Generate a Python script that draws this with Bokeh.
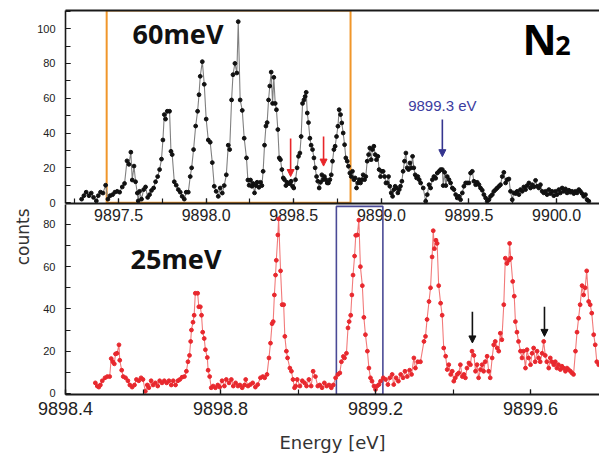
from bokeh.plotting import figure
from bokeh.layouts import column
from bokeh.models import (Range1d, LinearAxis, SingleIntervalTicker, FixedTicker,
                          NumeralTickFormatter, Arrow, NormalHead, Title)
from bokeh.embed import file_html
from bokeh.resources import INLINE
from bokeh.core.properties import value

# ---------------- data: upper spectrum (60 meV resolution) ----------------
TOP_E = [
    9897.289, 9897.302, 9897.315, 9897.331, 9897.344, 9897.357, 9897.373, 9897.384, 9897.397, 9897.411,
    9897.426, 9897.439, 9897.452, 9897.466, 9897.479, 9897.492, 9897.506, 9897.521, 9897.534, 9897.548,
    9897.559, 9897.570, 9897.578, 9897.588, 9897.597, 9897.607, 9897.612, 9897.620, 9897.631, 9897.643,
    9897.654, 9897.666, 9897.677, 9897.688, 9897.700, 9897.711, 9897.723, 9897.734, 9897.745, 9897.753,
    9897.761, 9897.768, 9897.778, 9897.791, 9897.799, 9897.806, 9897.818, 9897.829, 9897.841, 9897.852,
    9897.863, 9897.875, 9897.886, 9897.898, 9897.909, 9897.917, 9897.928, 9897.940, 9897.951, 9897.959,
    9897.966, 9897.978, 9897.989, 9898.000, 9898.012, 9898.023, 9898.035, 9898.046, 9898.057, 9898.069,
    9898.080, 9898.092, 9898.103, 9898.115, 9898.126, 9898.134, 9898.145, 9898.153, 9898.164, 9898.175,
    9898.183, 9898.194, 9898.206, 9898.217, 9898.230, 9898.238, 9898.245, 9898.253, 9898.261, 9898.268,
    9898.276, 9898.284, 9898.291, 9898.301, 9898.310, 9898.318, 9898.325, 9898.333, 9898.341, 9898.348,
    9898.356, 9898.363, 9898.371, 9898.379, 9898.386, 9898.394, 9898.401, 9898.409, 9898.417, 9898.424,
    9898.432, 9898.440, 9898.447, 9898.455, 9898.462, 9898.470, 9898.478, 9898.485, 9898.493, 9898.500,
    9898.510, 9898.519, 9898.527, 9898.535, 9898.542, 9898.550, 9898.558, 9898.565, 9898.571, 9898.577,
    9898.584, 9898.592, 9898.599, 9898.607, 9898.615, 9898.622, 9898.630, 9898.637, 9898.645, 9898.653,
    9898.660, 9898.668, 9898.675, 9898.683, 9898.691, 9898.698, 9898.706, 9898.714, 9898.721, 9898.729,
    9898.736, 9898.744, 9898.752, 9898.759, 9898.767, 9898.774, 9898.782, 9898.790, 9898.797, 9898.805,
    9898.812, 9898.820, 9898.828, 9898.835, 9898.843, 9898.850, 9898.858, 9898.866, 9898.873, 9898.881,
    9898.889, 9898.896, 9898.904, 9898.911, 9898.919, 9898.927, 9898.934, 9898.942, 9898.949, 9898.957,
    9898.965, 9898.972, 9898.980, 9898.987, 9898.995, 9899.003, 9899.010, 9899.018, 9899.026, 9899.033,
    9899.041, 9899.048, 9899.056, 9899.064, 9899.071, 9899.079, 9899.086, 9899.094, 9899.102, 9899.109,
    9899.117, 9899.124, 9899.132, 9899.140, 9899.147, 9899.155, 9899.163, 9899.170, 9899.178, 9899.185,
    9899.193, 9899.201, 9899.208, 9899.216, 9899.224, 9899.239, 9899.253, 9899.262, 9899.272, 9899.281,
    9899.291, 9899.300, 9899.310, 9899.319, 9899.329, 9899.338, 9899.348, 9899.353, 9899.361, 9899.368,
    9899.376, 9899.386, 9899.395, 9899.405, 9899.414, 9899.424, 9899.433, 9899.443, 9899.452, 9899.462,
    9899.471, 9899.481, 9899.490, 9899.500, 9899.509, 9899.519, 9899.528, 9899.538, 9899.547, 9899.557,
    9899.566, 9899.576, 9899.585, 9899.595, 9899.604, 9899.614, 9899.623, 9899.633, 9899.642, 9899.652,
    9899.661, 9899.671, 9899.680, 9899.690, 9899.699, 9899.709, 9899.718, 9899.728, 9899.737, 9899.747,
    9899.756, 9899.766, 9899.775, 9899.785, 9899.794, 9899.804, 9899.813, 9899.823, 9899.832, 9899.842,
    9899.851, 9899.861, 9899.870, 9899.880, 9899.889, 9899.899, 9899.908, 9899.918, 9899.927, 9899.937,
    9899.946, 9899.956, 9899.965, 9899.975, 9899.984, 9899.994, 9900.003, 9900.013, 9900.022, 9900.032,
    9900.041, 9900.051, 9900.060, 9900.070, 9900.079, 9900.089, 9900.098, 9900.108, 9900.117, 9900.127,
    9900.136, 9900.146, 9900.155, 9900.165, 9900.174, 9900.184,
]
TOP_COUNTS = [
    2, 4, 6, 4, 5.5, 3, 1, 4, 6, 5.5,
    10, 2, 4, 4.6, 6, 6.5, 6, 9, 11, 24,
    22, 29, 13, 21, 12, 5.5, 1, 6.5, 2, 7.5,
    9, 3, 4.6, 7, 8.4, 12, 15, 19, 25, 36,
    50.6, 48, 52.5, 52.5, 29.5, 27.6, 12, 10, 7.5, 6,
    3.6, 2, 6, 6, 15, 20, 30.5, 44, 52.5, 62,
    72.6, 81, 68, 48, 36, 34.7, 23, 9.4, 6.5, 3.6,
    8.4, 5.5, 9.8, 16, 33, 30.5, 59, 73.5, 80, 74.5,
    104, 59, 53, 37, 25.7, 13, 10, 13, 9.4, 11,
    5.6, 9.8, 11.7, 8.8, 11.7, 9.8, 18, 33, 44, 46,
    59, 67, 75, 57, 72, 57, 53.4, 42, 25.7, 24.7,
    19, 14.2, 13.2, 9.8, 11.7, 11, 11, 12.3, 9.4, 8.4,
    13.2, 20, 26.6, 28.5, 38, 57, 59, 61, 63.4, 51.5,
    46, 37, 33, 30.5, 25.7, 20, 15, 12.3, 8.4, 11.7,
    16, 13.2, 15, 13.2, 11.3, 11.3, 13.2, 16, 23.8, 30.5,
    32.4, 38, 43.9, 53.4, 50.6, 45.8, 40, 33.3, 25.7, 23.8,
    20.9, 17, 15, 18, 13.2, 14.2, 8.4, 11.3, 13.2, 11.3,
    13.2, 16, 13.2, 15, 23.8, 27.6, 31.4, 24.7, 30.5, 32.4,
    27.6, 24.7, 26.6, 19, 15, 18, 18, 15, 11.3, 11.3,
    15, 9.4, 5.6, 3.6, 7.5, 9.4, 8.4, 5.6, 7.5, 9.4,
    12.3, 18, 23.8, 28.5, 20, 19, 22.8, 20, 26.6, 20,
    16, 14.2, 15, 13.2, 11.3, 8.4, 0.8, 4.6, 10.3, 8.4,
    13.2, 15, 14, 17, 18, 19, 19, 9.8, 17.4, 9.8,
    15, 13.2, 11.3, 8.4, 7.5, 4.6, 2.7, 3.6, 1.7, 5.6,
    9.4, 11.3, 11.3, 11.3, 17, 18, 12.3, 10.3, 11.7, 10.3,
    8.4, 7.1, 4.6, 2.7, 0.8, 1.7, 3.6, 4.6, 6.5, 7.5,
    8.4, 9.4, 10.3, 15, 17.4, 11.3, 13.2, 13.6, 6.5, 1.7,
    5.6, 5.2, 6.5, 4.6, 7.5, 6.5, 9, 7.5, 9.8, 11.3,
    8.4, 10.3, 9, 12.8, 9.4, 8.4, 10.3, 6.5, 5.6, 6.5,
    4.6, 7.5, 5.2, 6.5, 4, 6.5, 4.6, 7.5, 5.6, 8.4,
    6.5, 7.9, 5.6, 7.1, 6, 6.5, 5.2, 6.5, 5.6, 7.5,
    6.5, 5.2, 3.6, 4.6, 1.7, 0.8,
]

# ---------------- data: lower spectrum (25 meV resolution) ----------------
BOT_E = [
    9898.477, 9898.482, 9898.486, 9898.490, 9898.495, 9898.502, 9898.508, 9898.514, 9898.518, 9898.522,
    9898.526, 9898.529, 9898.533, 9898.538, 9898.540, 9898.545, 9898.549, 9898.555, 9898.561, 9898.566,
    9898.572, 9898.578, 9898.583, 9898.589, 9898.595, 9898.600, 9898.606, 9898.611, 9898.615, 9898.621,
    9898.626, 9898.632, 9898.638, 9898.643, 9898.649, 9898.655, 9898.661, 9898.667, 9898.673, 9898.678,
    9898.684, 9898.690, 9898.695, 9898.701, 9898.707, 9898.712, 9898.716, 9898.720, 9898.723, 9898.725,
    9898.729, 9898.732, 9898.735, 9898.741, 9898.744, 9898.748, 9898.751, 9898.754, 9898.758, 9898.761,
    9898.766, 9898.768, 9898.772, 9898.776, 9898.781, 9898.787, 9898.793, 9898.798, 9898.804, 9898.810,
    9898.815, 9898.822, 9898.828, 9898.833, 9898.839, 9898.845, 9898.850, 9898.856, 9898.862, 9898.865,
    9898.871, 9898.877, 9898.883, 9898.890, 9898.896, 9898.903, 9898.909, 9898.914, 9898.920, 9898.925,
    9898.929, 9898.933, 9898.936, 9898.939, 9898.942, 9898.944, 9898.948, 9898.950, 9898.955, 9898.959,
    9898.963, 9898.966, 9898.970, 9898.973, 9898.979, 9898.983, 9898.987, 9898.991, 9898.994, 9898.998,
    9899.005, 9899.011, 9899.017, 9899.022, 9899.028, 9899.034, 9899.039, 9899.045, 9899.051, 9899.056,
    9899.062, 9899.068, 9899.074, 9899.080, 9899.086, 9899.091, 9899.097, 9899.103, 9899.108, 9899.112,
    9899.117, 9899.120, 9899.125, 9899.129, 9899.132, 9899.136, 9899.139, 9899.142, 9899.146, 9899.149,
    9899.153, 9899.157, 9899.161, 9899.166, 9899.170, 9899.174, 9899.179, 9899.183, 9899.187, 9899.191,
    9899.196, 9899.200, 9899.204, 9899.209, 9899.213, 9899.220, 9899.226, 9899.232, 9899.237, 9899.243,
    9899.247, 9899.253, 9899.259, 9899.265, 9899.271, 9899.276, 9899.282, 9899.288, 9899.293, 9899.299,
    9899.303, 9899.309, 9899.316, 9899.325, 9899.329, 9899.333, 9899.338, 9899.342, 9899.346, 9899.349,
    9899.352, 9899.356, 9899.359, 9899.363, 9899.368, 9899.372, 9899.376, 9899.381, 9899.385, 9899.389,
    9899.394, 9899.398, 9899.402, 9899.406, 9899.411, 9899.415, 9899.419, 9899.424, 9899.428, 9899.432,
    9899.436, 9899.441, 9899.445, 9899.449, 9899.454, 9899.458, 9899.462, 9899.466, 9899.471, 9899.475,
    9899.479, 9899.483, 9899.488, 9899.492, 9899.496, 9899.501, 9899.505, 9899.509, 9899.514, 9899.518,
    9899.522, 9899.526, 9899.531, 9899.535, 9899.539, 9899.544, 9899.546, 9899.549, 9899.554, 9899.558,
    9899.561, 9899.565, 9899.569, 9899.574, 9899.578, 9899.582, 9899.587, 9899.591, 9899.595, 9899.600,
    9899.604, 9899.608, 9899.612, 9899.617, 9899.621, 9899.625, 9899.630, 9899.634, 9899.638, 9899.642,
    9899.647, 9899.651, 9899.655, 9899.660, 9899.664, 9899.668, 9899.672, 9899.677, 9899.681, 9899.685,
    9899.690, 9899.694, 9899.698, 9899.703, 9899.707, 9899.711, 9899.716, 9899.720, 9899.724, 9899.728,
    9899.733, 9899.737, 9899.741, 9899.745, 9899.750, 9899.754, 9899.758, 9899.763, 9899.767, 9899.771,
    9899.776,
]
BOT_COUNTS = [
    5, 3.5, 3, 4, 6, 7.4, 8, 8, 16.5, 15,
    14, 18.7, 19, 23, 15.7, 11, 8, 7.4, 6, 4,
    3, 4, 6.6, 6, 7.4, 6.6, 1, 4, 2.7, 6,
    4, 5, 3.5, 6, 5, 6, 5, 6, 4, 6,
    4, 6, 6.6, 7.7, 8, 10.5, 15, 18, 24.6, 30,
    33.7, 37, 47.4, 47.4, 41, 41, 37, 29, 26, 20.7,
    17, 11, 8, 2.7, 3.5, 2.7, 4, 3, 6, 3.5,
    6.6, 5, 6.6, 3.5, 5, 3.5, 4, 2.7, 4, 6.6,
    3.5, 4.2, 5, 3, 4.2, 7.4, 8, 7.4, 9, 16.8,
    23.8, 33, 34, 46.6, 56, 63, 75, 82.6, 58, 42,
    42, 27, 20, 16.8, 12, 10.5, 6.6, 2.7, 3.5, 6.6,
    3.5, 6, 5, 3.5, 6.6, 3.5, 10.5, 8, 3.5, 4,
    2.7, 5, 3.5, 4, 2.7, 4, 7.4, 9, 9.7, 15,
    17.5, 16.8, 19, 31, 34, 37, 46.6, 56, 65, 74.8,
    75, 82, 60, 51, 36, 27.8, 20, 12, 7.4, 5.8,
    3.5, 1.9, 3.5, 4.2, 5.8, 7.4, 6.6, 4.2, 7.4, 9,
    4.2, 7.4, 5.8, 9, 7.4, 10.5, 8, 11, 9, 16.8,
    12, 15, 15, 24.6, 27, 35, 43.5, 50, 64.6, 77,
    68.5, 72.5, 71, 51, 42.7, 37, 21.5, 17.6, 11.3, 13.6,
    9, 10.5, 5.8, 7.4, 9, 9.7, 13.6, 8, 9, 7.4,
    12, 14.4, 13.6, 20, 18, 10.5, 13.6, 7.4, 11.3, 13.6,
    10.5, 15, 17.6, 10.5, 7.4, 16.8, 23, 24.6, 21.5, 20,
    28.5, 25.4, 42, 64, 61.5, 63, 71, 64, 53, 46,
    34, 29, 24.6, 20, 16.8, 20, 12, 20.7, 16.8, 13.6,
    19, 21.5, 15, 20, 16.8, 15, 19, 24.6, 18, 15,
    12, 16.8, 15, 13.6, 15, 12, 13.6, 11.3, 12.9, 12,
    10.5, 12, 11.3, 10.5, 9.7, 9, 20, 29, 35.6, 42,
    51, 46.6, 50, 58, 43.5, 42, 38, 27.8, 23, 15,
    13.6,
]

# ---------------- axes / annotation values ----------------
TOP_XRANGE = (9897.197, 9900.245)
TOP_YRANGE = (-0.5, 110.4)
BOT_XRANGE = (9898.4, 9899.778)
BOT_YRANGE = (-0.5, 89.4)
TOP_XTICK = 0.5
BOT_XTICK = 0.4
YTICK = 20

ORANGE_BOX = (9897.432, 9898.824)          # energy bounds of highlighted region (upper)
BLUE_BOX = (9899.099, 9899.219, 88.5)      # energy bounds + top (lower)
RED_ARROWS = [(9898.482, 36.8, 15.0), (9898.670, 38.0, 21.0)]
BLUE_ARROW = (9899.348, 47.7, 26.4)
BLACK_ARROWS = [(9899.450, 38.7, 23.9), (9899.636, 41.0, 27.0)]
BLUE_LABEL = ("9899.3 eV", 9899.348, 56.0)

TICK_FONT = "Liberation Sans"
AXIS_COLOR = "#1a1a1a"


def style_common(p):
    p.xgrid.visible = False
    p.ygrid.visible = False
    p.outline_line_color = None
    p.toolbar.logo = None


def style_axis(ax, font_size, standoff):
    ax.axis_line_color = AXIS_COLOR
    ax.axis_line_width = 1.6
    ax.major_tick_in = 5
    ax.major_tick_out = 0
    ax.minor_tick_in = 5
    ax.minor_tick_out = 0
    ax.major_tick_line_color = AXIS_COLOR
    ax.minor_tick_line_color = AXIS_COLOR
    ax.major_tick_line_width = 1.2
    ax.minor_tick_line_width = 1.2
    ax.major_label_text_font = TICK_FONT
    ax.major_label_text_font_size = font_size
    ax.major_label_text_color = "#222222"
    ax.major_label_standoff = standoff


# ================= upper panel =================
top = figure(width=599, height=228, output_backend="svg", toolbar_location=None,
             x_range=Range1d(*TOP_XRANGE), y_range=Range1d(*TOP_YRANGE),
             min_border_left=65, min_border_right=0, min_border_top=10, min_border_bottom=25,
             x_axis_type=None, y_axis_type=None)
style_common(top)
top.background_fill_color = None
top.border_fill_color = None

xa_top = LinearAxis(ticker=SingleIntervalTicker(interval=TOP_XTICK, num_minor_ticks=2),
                    formatter=NumeralTickFormatter(format="0.0"))
style_axis(xa_top, "16px", 5)
xa_top.axis_line_width = 2
top.add_layout(xa_top, "below")

ya_top = LinearAxis(ticker=SingleIntervalTicker(interval=YTICK, num_minor_ticks=2))
style_axis(ya_top, "11px", 10)
top.add_layout(ya_top, "left")

frame_top = LinearAxis(ticker=FixedTicker(ticks=[]), major_label_standoff=0,
                       major_tick_in=0, major_tick_out=0, minor_tick_in=0, minor_tick_out=0)
frame_top.axis_line_color = AXIS_COLOR
frame_top.axis_line_width = 2
top.add_layout(frame_top, "above")

# highlighted region
top.quad(left=[ORANGE_BOX[0]], right=[ORANGE_BOX[1]], bottom=[0], top=[TOP_YRANGE[1]],
         fill_color=None, line_color="#f0962a", line_width=2)

top.line(TOP_E, TOP_COUNTS, line_color="#808080", line_width=1.1)
top.scatter(TOP_E, TOP_COUNTS, size=3.8, fill_color="#111111", line_color="#111111")

for (xa, y0, y1) in RED_ARROWS:
    top.add_layout(Arrow(end=NormalHead(size=7, fill_color="#e8262a", line_color="#e8262a"),
                         x_start=xa, y_start=y0, x_end=xa, y_end=y1,
                         line_color="#e8262a", line_width=1.6))
top.add_layout(Arrow(end=NormalHead(size=7, fill_color="#35358f", line_color="#35358f"),
                     x_start=BLUE_ARROW[0], y_start=BLUE_ARROW[1], x_end=BLUE_ARROW[0],
                     y_end=BLUE_ARROW[2], line_color="#35358f", line_width=1.6))

top.text(x=[BLUE_LABEL[1]], y=[BLUE_LABEL[2]], text=[BLUE_LABEL[0]],
         text_font=value("Liberation Sans"), text_font_size="15px", text_color="#3c3ca0",
         text_align="center", text_baseline="alphabetic")
top.text(x=[9897.58], y=[97.4], text=["60meV"], text_font=value("Noto Sans"),
         text_font_size="27px", text_font_style="bold", text_color="#111111",
         text_baseline="alphabetic")
top.text(x=[9899.805], y=[94.2], text=["N"], text_font=value("Noto Sans"),
         text_font_size="42px", text_font_style="bold", text_color="#000000",
         text_baseline="alphabetic")
top.text(x=[9899.992], y=[90.2], text=["2"], text_font=value("Noto Sans"),
         text_font_size="27px", text_font_style="bold", text_color="#000000",
         text_baseline="alphabetic")

# ================= lower panel =================
bot = figure(width=599, height=251, output_backend="svg", toolbar_location=None,
             x_range=Range1d(*BOT_XRANGE), y_range=Range1d(*BOT_YRANGE),
             min_border_left=65, min_border_right=0, min_border_top=0, min_border_bottom=60,
             x_axis_type=None, y_axis_type=None)
style_common(bot)
bot.background_fill_color = None
bot.background_fill_alpha = 0
bot.border_fill_color = None
bot.border_fill_alpha = 0
bot.margin = (-24, 0, 0, 0)

xa_bot = LinearAxis(ticker=SingleIntervalTicker(interval=BOT_XTICK, num_minor_ticks=2),
                    formatter=NumeralTickFormatter(format="0.0"))
style_axis(xa_bot, "18px", 7)
xa_bot.axis_line_width = 2
xa_bot.axis_label = "Energy [eV]"
xa_bot.axis_label_text_font = "DejaVu Sans"
xa_bot.axis_label_text_font_size = "18px"
xa_bot.axis_label_text_font_style = "normal"
xa_bot.axis_label_text_color = "#333333"
xa_bot.axis_label_standoff = 14
bot.add_layout(xa_bot, "below")

ya_bot = LinearAxis(ticker=SingleIntervalTicker(interval=YTICK, num_minor_ticks=2))
style_axis(ya_bot, "11px", 10)
bot.add_layout(ya_bot, "left")

bot.add_layout(Title(text="counts", align="right", offset=4, standoff=16,
                     text_font="DejaVu Sans", text_font_size="17px",
                     text_font_style="normal", text_color="#333333"), "left")

bot.quad(left=[BLUE_BOX[0]], right=[BLUE_BOX[1]], bottom=[BOT_YRANGE[0]], top=[BLUE_BOX[2]],
         fill_color=None, line_color="#4a4a96", line_width=1.6)

bot.line(BOT_E, BOT_COUNTS, line_color="#f27a7a", line_width=1.1)
bot.scatter(BOT_E, BOT_COUNTS, size=3.8, fill_color="#e8282e", line_color="#e8282e")

for (xa, y0, y1) in BLACK_ARROWS:
    bot.add_layout(Arrow(end=NormalHead(size=7, fill_color="#111111", line_color="#111111"),
                         x_start=xa, y_start=y0, x_end=xa, y_end=y1,
                         line_color="#111111", line_width=1.6))

bot.text(x=[9898.568], y=[64.0], text=["25meV"], text_font=value("Noto Sans"),
         text_font_size="27px", text_font_style="bold", text_color="#111111",
         text_baseline="alphabetic")

layout = column(top, bot, spacing=0)
open("out.html", "w").write(file_html(layout, INLINE))
